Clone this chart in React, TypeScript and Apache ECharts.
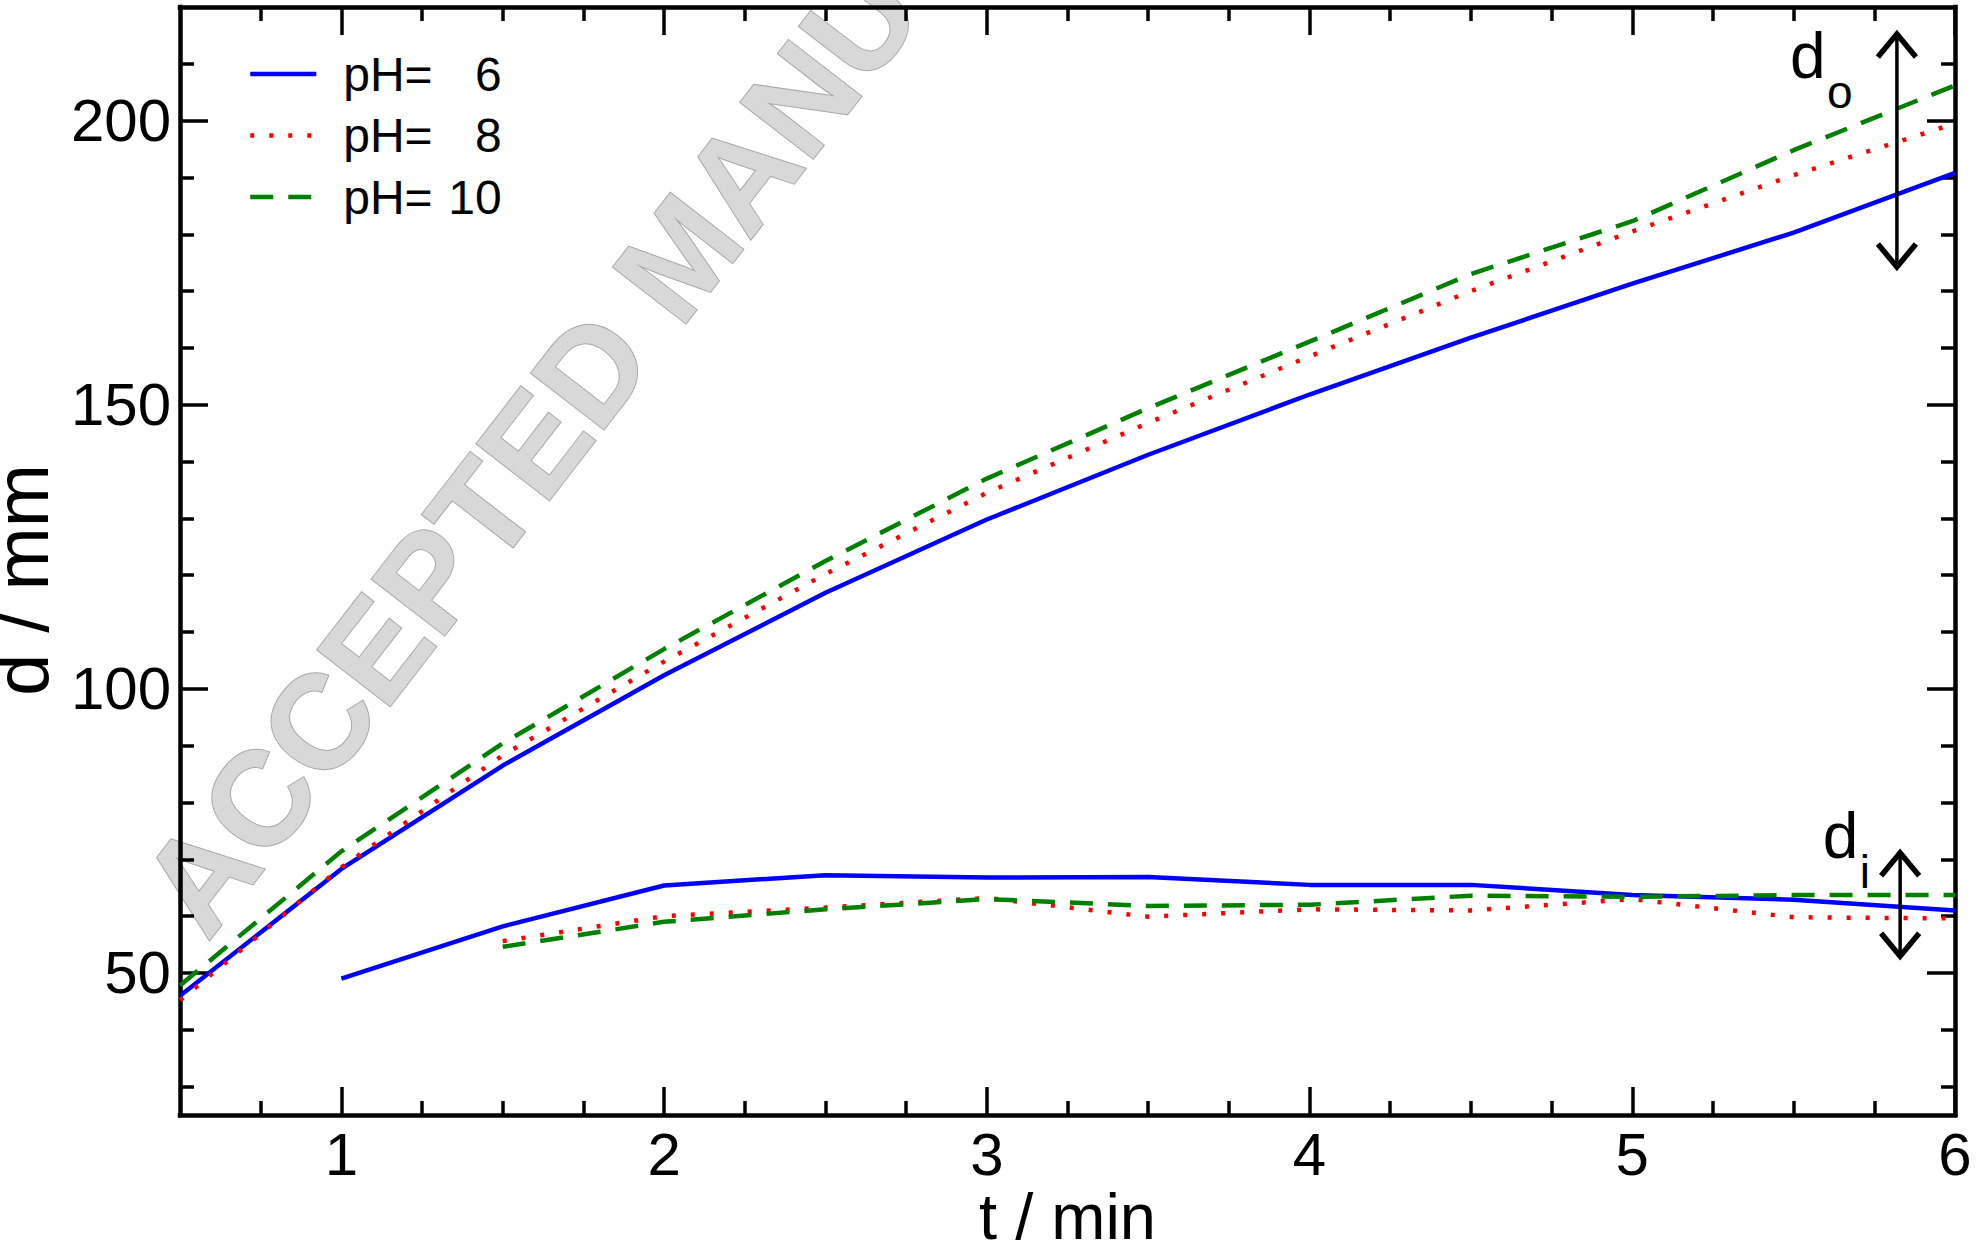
import React, { useEffect, useRef } from "react";
import * as echarts from "echarts";

// ---- data ----
const T_OUTER = [0.5, 1, 1.5, 2, 2.5, 3, 3.5, 4, 4.5, 5, 5.5, 6];
const OUTER_PH6 = [46, 68.3, 86.5, 102.4, 116.9, 129.8, 141.2, 151.8, 161.8, 171.3, 180.3, 190.8];
const OUTER_PH8 = [45.2, 68.6, 88.3, 104.8, 120.2, 134.5, 146.8, 158.5, 170, 180.5, 190.4, 199.5];
const OUTER_PH10 = [47.8, 71.4, 90.4, 107, 122.5, 137, 149.4, 161.1, 173, 182.3, 194.8, 206.2];

const T_INNER_PH6 = [1, 1.5, 2, 2.5, 3, 3.5, 4, 4.5, 5, 5.5, 6];
const INNER_PH6 = [49, 58.2, 65.4, 67.2, 66.8, 66.9, 65.5, 65.5, 63.7, 62.9, 61];
const T_INNER = [1.5, 2, 2.5, 3, 3.5, 4, 4.5, 5, 5.5, 6];
const INNER_PH8 = [55.6, 60, 61.5, 63.2, 59.9, 61.2, 61, 63.0, 59.8, 59.6];
const INNER_PH10 = [54.6, 59, 61.2, 63, 61.8, 62, 63.6, 63.4, 63.7, 63.7];

const SERIES_NAMES = ["pH6", "pH8", "pH10"];
const LEGEND_NUMBERS = ["6", "8", "10"];

const X_MAJOR = [1, 2, 3, 4, 5, 6];
const X_MINOR = [0.75, 1.25, 1.5, 1.75, 2.25, 2.5, 2.75, 3.25, 3.5, 3.75, 4.25, 4.5, 4.75, 5.25, 5.5, 5.75];
const Y_MAJOR = [50, 100, 150, 200];
const Y_MINOR = [30, 40, 60, 70, 80, 90, 110, 120, 130, 140, 160, 170, 180, 190, 210];

// annotation arrows (d_o and d_i)
const ARROW_T = [5.82, 5.83];
const ARROW_TOP = [215.6, 71.5];
const ARROW_BOTTOM = [173.9, 52.6];
const LABEL_T = [5.489, 5.59];
const LABEL_V = [205.8, 68.5];
const LABEL_SUBS = ["o", "i"];

const FONT = "Liberation Sans, Arial, Helvetica, sans-serif";

const pairs = (xs: number[], ys: number[]) => xs.map((x, i) => [x, ys[i]]);

export default function App() {
  const ref = useRef<HTMLDivElement>(null);

  useEffect(() => {
    if (!ref.current) return;
    const chart = echarts.init(ref.current, undefined, { renderer: "svg" });

    const axisLine = { show: true, lineStyle: { color: "#000", width: 4.5, cap: "square" } };
    const xBase = { type: "value", min: 0.5, max: 6, splitLine: { show: false }, gridIndex: 0 };
    const yBase = { type: "value", min: 25, max: 220, splitLine: { show: false }, gridIndex: 0 };
    const majorTick = (vals: number[]) => ({
      show: true,
      inside: true,
      length: 28,
      customValues: vals,
      lineStyle: { color: "#000", width: 3.5 },
    });
    const minorTick = (vals: number[]) => ({
      show: true,
      inside: true,
      length: 14,
      customValues: vals,
      lineStyle: { color: "#000", width: 3.5 },
    });

    const styles = [
      { color: "#0000ff", type: "solid" as any },
      { color: "#ff0000", type: [4, 15] as any },
      { color: "#008000", type: [23, 15] as any },
    ];
    const outer = [OUTER_PH6, OUTER_PH8, OUTER_PH10];
    const innerX = [T_INNER_PH6, T_INNER, T_INNER];
    const innerY = [INNER_PH6, INNER_PH8, INNER_PH10];

    const lineSeries: any[] = [];
    for (let i = 0; i < 3; i++) {
      const ls = { color: styles[i].color, width: 4.5, type: styles[i].type, cap: "butt" };
      lineSeries.push({
        name: SERIES_NAMES[i],
        type: "line",
        data: pairs(T_OUTER, outer[i]),
        symbol: "none",
        showSymbol: false,
        lineStyle: ls,
        itemStyle: { color: styles[i].color },
        z: 3,
      });
      lineSeries.push({
        name: SERIES_NAMES[i],
        type: "line",
        data: pairs(innerX[i], innerY[i]),
        symbol: "none",
        showSymbol: false,
        lineStyle: ls,
        itemStyle: { color: styles[i].color },
        z: 3,
      });
    }

    const arrowSeries = {
      name: "arrows",
      type: "custom",
      silent: true,
      clip: false,
      z: 5,
      data: ARROW_T.map((t, i) => [t, ARROW_TOP[i], ARROW_BOTTOM[i], LABEL_T[i], LABEL_V[i]]),
      renderItem: (params: any, api: any) => {
        const x = api.value(0);
        const p1 = api.coord([x, api.value(1)]);
        const p2 = api.coord([x, api.value(2)]);
        const lp = api.coord([api.value(3), api.value(4)]);
        const sub = LABEL_SUBS[params.dataIndex];
        const hw = 19;
        const hh = 25;
        return {
          type: "group",
          children: [
            {
              type: "line",
              shape: { x1: p1[0], y1: p1[1] + 2, x2: p2[0], y2: p2[1] - 2 },
              style: { stroke: "#000", lineWidth: 3.5 },
            },
            {
              type: "polyline",
              shape: { points: [[p1[0] - hw, p1[1] + hh], [p1[0], p1[1] + 2], [p1[0] + hw, p1[1] + hh]] },
              style: { stroke: "#000", lineWidth: 5.5, fill: null },
            },
            {
              type: "polyline",
              shape: { points: [[p2[0] - hw, p2[1] - hh], [p2[0], p2[1] - 2], [p2[0] + hw, p2[1] - hh]] },
              style: { stroke: "#000", lineWidth: 5.5, fill: null },
            },
            {
              type: "text",
              x: lp[0],
              y: lp[1],
              style: {
                text: "d",
                fontSize: 64,
                fontFamily: FONT,
                fill: "#000",
                align: "left",
                verticalAlign: "bottom",
              },
            },
            {
              type: "text",
              x: lp[0] + 37,
              y: lp[1] + 27,
              style: {
                text: sub,
                fontSize: 46,
                fontFamily: FONT,
                fill: "#000",
                align: "left",
                verticalAlign: "bottom",
              },
            },
          ],
        };
      },
    };

    const option: any = {
      animation: false,
      backgroundColor: "#fff",
      textStyle: { fontFamily: FONT },
      grid: { left: 180, right: 21, top: 7, bottom: 131, containLabel: false, outerBoundsMode: "none" },
      legend: {
        data: SERIES_NAMES,
        orient: "vertical",
        left: 243,
        top: 45,
        itemWidth: 66,
        itemHeight: 14,
        itemGap: 13.5,
        selectedMode: false,
        itemStyle: { opacity: 0 },
        lineStyle: { width: 4.5 },
        formatter: (name: string) => {
          const i = SERIES_NAMES.indexOf(name);
          return `{a|pH=}{b|${LEGEND_NUMBERS[i]}}`;
        },
        textStyle: {
          fontFamily: FONT,
          fontSize: 48,
          color: "#000",
          rich: {
            a: { fontFamily: FONT, fontSize: 48, color: "#000", padding: [0, 0, 0, 22], lineHeight: 48 },
            b: { fontFamily: FONT, fontSize: 48, color: "#000", width: 69, align: "right", lineHeight: 48 },
          },
        },
      },
      xAxis: [
        {
          ...xBase,
          position: "bottom",
          axisLine,
          axisTick: majorTick(X_MAJOR),
          axisLabel: {
            customValues: X_MAJOR,
            fontSize: 60,
            fontFamily: FONT,
            color: "#000",
            margin: 9,
          },
          name: "t / min",
          nameLocation: "middle",
          nameGap: 70,
          nameMoveOverlap: false,
          nameTextStyle: { fontSize: 65, lineHeight: 62, fontFamily: FONT, color: "#000" },
        },
        { ...xBase, position: "bottom", axisLine: { show: false }, axisTick: minorTick(X_MINOR), axisLabel: { show: false } },
        { ...xBase, position: "top", axisLine, axisTick: majorTick(X_MAJOR), axisLabel: { show: false } },
        { ...xBase, position: "top", axisLine: { show: false }, axisTick: minorTick(X_MINOR), axisLabel: { show: false } },
      ],
      yAxis: [
        {
          ...yBase,
          position: "left",
          axisLine,
          axisTick: majorTick(Y_MAJOR),
          axisLabel: {
            customValues: Y_MAJOR,
            fontSize: 60,
            fontFamily: FONT,
            color: "#000",
            margin: 9,
          },
          name: "d / mm",
          nameLocation: "middle",
          nameGap: 108,
          nameTextStyle: {
            fontSize: 76,
            lineHeight: 66,
            fontFamily: FONT,
            color: "#000",
            padding: [0, 38, 0, 0],
          },
        },
        { ...yBase, position: "left", axisLine: { show: false }, axisTick: minorTick(Y_MINOR), axisLabel: { show: false } },
        { ...yBase, position: "right", axisLine, axisTick: majorTick(Y_MAJOR), axisLabel: { show: false } },
        { ...yBase, position: "right", axisLine: { show: false }, axisTick: minorTick(Y_MINOR), axisLabel: { show: false } },
      ],
      graphic: [
        {
          type: "text",
          x: 680,
          y: 255,
          rotation: 0.913,
          z: 0,
          zlevel: 0,
          silent: true,
          style: {
            text: "ACCEPTED MANUSCRIPT",
            fontSize: 134,
            fontWeight: "bold",
            fontFamily: FONT,
            fill: "#d8d8d8",
            stroke: "#a8a8a8",
            lineWidth: 2,
            align: "center",
            verticalAlign: "middle",
            shadowColor: "rgba(0,0,0,0.45)",
            shadowBlur: 6,
            shadowOffsetX: 4,
            shadowOffsetY: 5,
          },
        },
      ],
      series: [...lineSeries, arrowSeries],
    };

    chart.setOption(option);
    return () => chart.dispose();
  }, []);

  return (
    <div
      ref={ref}
      style={{ position: "fixed", left: 0, top: 0, width: 1976, height: 1246, background: "#fff" }}
    />
  );
}
